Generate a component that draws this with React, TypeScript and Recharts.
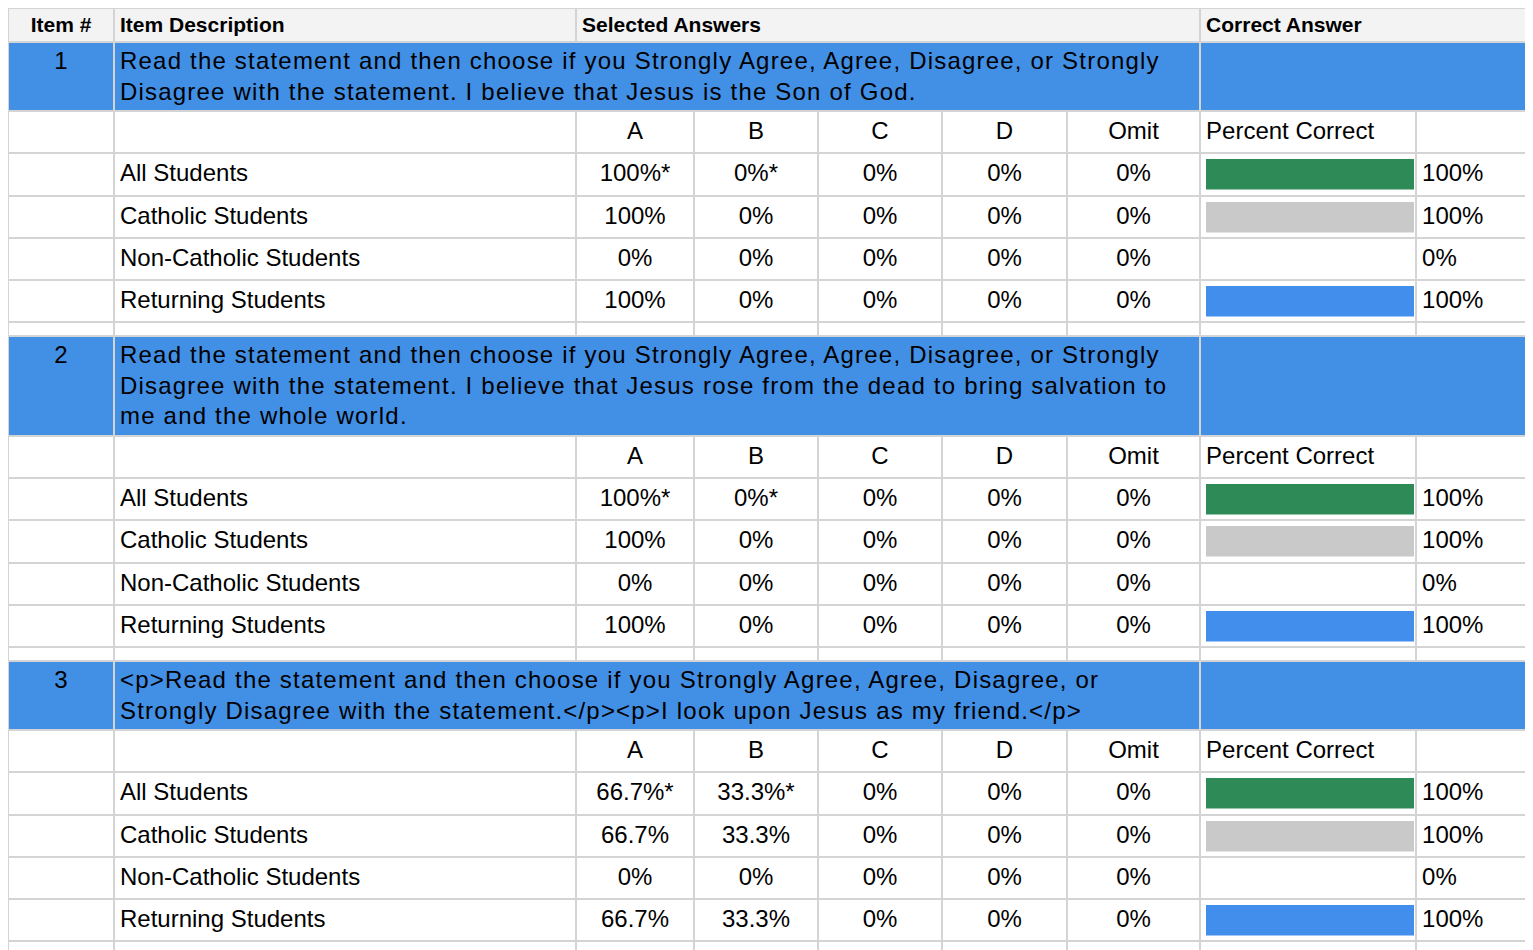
import { Bar, BarChart, XAxis, YAxis } from "recharts";

const itemNumbers = [1, 2, 3];
const itemDescriptions = [
  "Read the statement and then choose if you Strongly Agree, Agree, Disagree, or Strongly Disagree with the statement. I believe that Jesus is the Son of God.",
  "Read the statement and then choose if you Strongly Agree, Agree, Disagree, or Strongly Disagree with the statement. I believe that Jesus rose from the dead to bring salvation to me and the whole world.",
  "<p>Read the statement and then choose if you Strongly Agree, Agree, Disagree, or Strongly Disagree with the statement.</p><p>I look upon Jesus as my friend.</p>",
];
const answerChoices = ["A", "B", "C", "D", "Omit"];
const studentGroups = [
  "All Students",
  "Catholic Students",
  "Non-Catholic Students",
  "Returning Students",
];
// choices flagged with * on the All Students row
const flaggedChoices = [
  ["A", "B"],
  ["A", "B"],
  ["A", "B"],
];
const item1Answers = [
  [100, 0, 0, 0, 0],
  [100, 0, 0, 0, 0],
  [0, 0, 0, 0, 0],
  [100, 0, 0, 0, 0],
];
const item2Answers = [
  [100, 0, 0, 0, 0],
  [100, 0, 0, 0, 0],
  [0, 0, 0, 0, 0],
  [100, 0, 0, 0, 0],
];
const item3Answers = [
  [66.7, 33.3, 0, 0, 0],
  [66.7, 33.3, 0, 0, 0],
  [0, 0, 0, 0, 0],
  [66.7, 33.3, 0, 0, 0],
];
const item1Correct = [100, 100, 0, 100];
const item2Correct = [100, 100, 0, 100];
const item3Correct = [100, 100, 0, 100];
const groupColors = ["#2e8b57", "#c9c9c9", "#e69a3c", "#418eed"];

const itemAnswers = [item1Answers, item2Answers, item3Answers];
const itemCorrect = [item1Correct, item2Correct, item3Correct];

const colWidths = [104, 460, 116, 122, 122, 123, 131, 214, 113];
const FONT = '"Liberation Sans", Arial, Helvetica, sans-serif';
const BAND = "#428fe6";
const LINE = "#d4d4d4";

const cell: React.CSSProperties = {
  background: "#fff",
  padding: "0 5px 2px 5px",
  height: 40.25,
  boxSizing: "border-box",
  fontSize: 24,
  lineHeight: "38px",
  whiteSpace: "nowrap",
  overflow: "hidden",
};

const bandCell: React.CSSProperties = {
  background: BAND,
  padding: "3px 5px 3px 5px",
  fontSize: 24,
  lineHeight: "30.5px",
  verticalAlign: "top",
};

const PercentBar = ({ value, color }: { value: number; color: string }) => (
  <BarChart
    width={214}
    height={40}
    layout="vertical"
    data={[{ name: "pct", value }]}
    margin={{ top: 3, bottom: 3, left: 5, right: 1 }}
  >
    <XAxis type="number" domain={[0, 100]} hide />
    <YAxis type="category" dataKey="name" hide />
    <Bar dataKey="value" fill={color} barSize={34} isAnimationActive={false} />
  </BarChart>
);

const ItemBlock = ({ idx }: { idx: number }) => {
  const answers = itemAnswers[idx];
  const correct = itemCorrect[idx];
  return (
    <>
      <tr>
        <td style={{ ...bandCell, textAlign: "center" }}>{itemNumbers[idx]}</td>
        <td colSpan={6} style={{ ...bandCell, letterSpacing: 1.2 }}>
          {itemDescriptions[idx]}
        </td>
        <td colSpan={2} style={bandCell} />
      </tr>
      <tr>
        <td style={cell} />
        <td style={cell} />
        {answerChoices.map((c) => (
          <td key={c} style={{ ...cell, textAlign: "center" }}>
            {c}
          </td>
        ))}
        <td style={cell}>Percent Correct</td>
        <td style={cell} />
      </tr>
      {studentGroups.map((g, gi) => (
        <tr key={g}>
          <td style={cell} />
          <td style={cell}>{g}</td>
          {answers[gi].map((v, ci) => (
            <td key={ci} style={{ ...cell, textAlign: "center" }}>
              {`${v}%`}
              {gi === 0 && flaggedChoices[idx].includes(answerChoices[ci]) ? "*" : ""}
            </td>
          ))}
          <td style={{ ...cell, padding: 0 }}>
            <PercentBar value={correct[gi]} color={groupColors[gi]} />
          </td>
          <td style={cell}>{`${correct[gi]}%`}</td>
        </tr>
      ))}
      <tr>
        {colWidths.map((_, i) => (
          <td key={i} style={{ ...cell, height: 12, padding: 0, lineHeight: "12px" }} />
        ))}
      </tr>
    </>
  );
};

const headCell: React.CSSProperties = {
  background: "#f3f3f3",
  padding: "0 5px",
  height: 32,
  fontSize: 21,
  fontWeight: "bold",
  lineHeight: "32px",
  textAlign: "left",
  whiteSpace: "nowrap",
};

export default function App() {
  return (
    <div style={{ margin: "-1px 0 0 -1px", fontFamily: FONT, color: "#000" }}>
      <style>{"html, body { overflow: hidden; }"}</style>
      <table
        style={{
          width: 1525,
          tableLayout: "fixed",
          borderCollapse: "separate",
          borderSpacing: 2,
          background: LINE,
          fontFamily: FONT,
        }}
      >
        <colgroup>
          {colWidths.map((w, i) => (
            <col key={i} style={{ width: w }} />
          ))}
        </colgroup>
        <tbody>
          <tr>
            <th style={{ ...headCell, textAlign: "center" }}>Item #</th>
            <th style={headCell}>Item Description</th>
            <th colSpan={5} style={headCell}>
              Selected Answers
            </th>
            <th colSpan={2} style={headCell}>
              Correct Answer
            </th>
          </tr>
          {itemNumbers.map((_, i) => (
            <ItemBlock key={i} idx={i} />
          ))}
        </tbody>
      </table>
    </div>
  );
}
